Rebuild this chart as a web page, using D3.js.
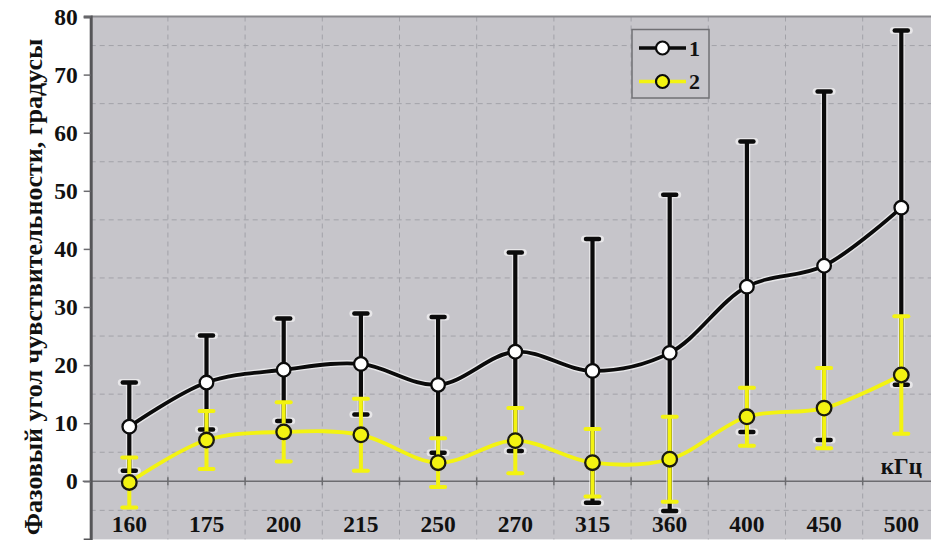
<!DOCTYPE html>
<html>
<head>
<meta charset="utf-8">
<script src="https://cdn.jsdelivr.net/npm/d3@7"></script>
<style>
  html, body { margin: 0; padding: 0; background: #ffffff; }
  svg { display: block; }
  text { font-family: "Liberation Serif", "Tinos", "Times New Roman", "DejaVu Serif", serif; }
</style>
</head>
<body>
<svg id="chart" width="931" height="540"></svg>
<script>
// Frequencies (kHz) along the horizontal axis
const categories = ["160", "175", "200", "215", "250", "270", "315", "360", "400", "450", "500"];

// Series 1: mean phase angle and its error (degrees)
const series1Mean = [9.4, 17.0, 19.2, 20.2, 16.6, 22.3, 19.0, 22.1, 33.5, 37.1, 47.1];
const series1Err  = [7.6, 8.1, 8.8, 8.7, 11.7, 17.1, 22.7, 27.2, 25.0, 30.0, 30.5];

// Series 2: mean phase angle and its error (degrees)
const series2Mean = [-0.2, 7.1, 8.5, 8.0, 3.2, 7.0, 3.2, 3.8, 11.1, 12.6, 18.3];
const series2Err  = [4.3, 5.0, 5.1, 6.2, 4.2, 5.6, 5.8, 7.3, 5.0, 6.9, 10.1];

const seriesNames = ["1", "2"];
const yTicks = [0, 10, 20, 30, 40, 50, 60, 70, 80];
const yGrid = [-5, 5, 15, 25, 35, 45, 55, 65, 75];
const yTitle = "Фазовый угол чувствительности, градусы";
const xUnit = "кГц";

const FONT = "'Liberation Serif', 'Tinos', 'Times New Roman', 'DejaVu Serif', serif";

const svg = d3.select("#chart");
const W = 931, H = 540;

const plot = { left: 90.7, right: 939.9, top: 16.5, bottom: 539.4 };

const x = d3.scaleBand().domain(categories).range([plot.left, plot.right]).padding(0);
const y = d3.scaleLinear().domain([-10, 80]).range([plot.bottom, plot.top]);
const cx = c => x(c) + x.bandwidth() / 2;

const GRAY_BG = "#c6c5ca";
const YELLOW = "#f3f311";

// plot background
svg.append("rect")
  .attr("x", plot.left).attr("y", plot.top)
  .attr("width", plot.right - plot.left).attr("height", plot.bottom - plot.top)
  .attr("fill", GRAY_BG);

// dashed grid
const grid = svg.append("g").attr("stroke", "#a2a2a8").attr("stroke-width", 1).attr("stroke-dasharray", "5,4");
grid.selectAll("line.h").data(yGrid).join("line")
  .attr("class", "h")
  .attr("x1", plot.left).attr("x2", plot.right)
  .attr("y1", d => y(d)).attr("y2", d => y(d));
grid.selectAll("line.v").data(categories.slice(1)).join("line")
  .attr("class", "v")
  .attr("x1", d => x(d)).attr("x2", d => x(d))
  .attr("y1", plot.top).attr("y2", plot.bottom);

// top border
svg.append("line")
  .attr("x1", plot.left).attr("x2", W)
  .attr("y1", plot.top).attr("y2", plot.top)
  .attr("stroke", "#8a8a8e").attr("stroke-width", 2);

// zero line with small ticks at the band boundaries
svg.append("line")
  .attr("x1", plot.left - 8).attr("x2", W)
  .attr("y1", y(0)).attr("y2", y(0))
  .attr("stroke", "#6c6c70").attr("stroke-width", 1.5);
svg.append("g").selectAll("line").data(categories.slice(1)).join("line")
  .attr("x1", d => x(d)).attr("x2", d => x(d))
  .attr("y1", y(0) - 4).attr("y2", y(0) + 4)
  .attr("stroke", "#6c6c70").attr("stroke-width", 1.5);

// left axis
const yAxis = d3.axisLeft(y).tickValues(yTicks).tickSize(7).tickPadding(6).tickFormat(d3.format("d"));
const gy = svg.append("g").attr("transform", `translate(${plot.left},0)`).call(yAxis);
gy.attr("font-family", null);
gy.select(".domain").attr("stroke", "#555558").attr("stroke-width", 3);
gy.selectAll(".tick line").attr("stroke", "#6c6c70").attr("stroke-width", 1.5);
gy.selectAll(".tick text")
  .attr("fill", "#111").attr("font-size", 23.5).attr("font-weight", "bold")
  .style("font-family", FONT);

// y-axis title
svg.append("text")
  .attr("transform", `translate(42,${(38 + 536) / 2}) rotate(-90)`)
  .attr("text-anchor", "middle")
  .attr("font-size", 26)
  .attr("font-weight", "bold")
  .attr("fill", "#111")
  .style("font-family", FONT)
  .text(yTitle);

// category labels inside the plot
svg.append("g").selectAll("text").data(categories).join("text")
  .attr("x", d => cx(d)).attr("y", 531.5)
  .attr("text-anchor", "middle")
  .attr("font-size", 23.5).attr("font-weight", "bold").attr("fill", "#111")
  .style("font-family", FONT)
  .text(d => d);

// unit label
svg.append("text")
  .attr("x", 922).attr("y", 474)
  .attr("text-anchor", "end")
  .attr("font-size", 23).attr("font-weight", "bold").attr("fill", "#111")
  .style("font-family", FONT)
  .text(xUnit);

const rows1 = categories.map((c, i) => ({ c, m: series1Mean[i], e: series1Err[i] }));
const rows2 = categories.map((c, i) => ({ c, m: series2Mean[i], e: series2Err[i] }));

function errorBars(g, rows, color, width, capW, capT) {
  g.selectAll("line.stem").data(rows).join("line")
    .attr("class", "stem")
    .attr("x1", d => cx(d.c)).attr("x2", d => cx(d.c))
    .attr("y1", d => y(d.m + d.e)).attr("y2", d => y(d.m - d.e))
    .attr("stroke", color).attr("stroke-width", width);
  const caps = rows.flatMap(d => [d.m + d.e, d.m - d.e].map(v => ({ c: d.c, v })));
  g.selectAll("line.cap").data(caps).join("line")
    .attr("class", "cap")
    .attr("x1", d => cx(d.c) - capW / 2).attr("x2", d => cx(d.c) + capW / 2)
    .attr("y1", d => y(d.v)).attr("y2", d => y(d.v))
    .attr("stroke", color).attr("stroke-width", capT).attr("stroke-linecap", "round");
}

// series 1 error bars with a light halo
errorBars(svg.append("g").attr("opacity", 0.6), rows1, "#ffffff", 6.8, 16, 7);
errorBars(svg.append("g"), rows1, "#0b0b0b", 4.2, 13, 4.5);
// series 2 error bars
errorBars(svg.append("g"), rows2, YELLOW, 4, 14, 4);

const line = d3.line()
  .x(d => cx(d.c)).y(d => y(d.m))
  .curve(d3.curveCatmullRom.alpha(0.5));

// series 1 line
svg.append("path").datum(rows1).attr("d", line)
  .attr("fill", "none").attr("stroke", "#ffffff").attr("stroke-opacity", 0.6).attr("stroke-width", 6.5);
svg.append("path").datum(rows1).attr("d", line)
  .attr("fill", "none").attr("stroke", "#0b0b0b").attr("stroke-width", 3.8);
// series 2 line
svg.append("path").datum(rows2).attr("d", line)
  .attr("fill", "none").attr("stroke", YELLOW).attr("stroke-width", 3.8);

// markers
svg.append("g").selectAll("circle").data(rows1).join("circle")
  .attr("cx", d => cx(d.c)).attr("cy", d => y(d.m)).attr("r", 6.8)
  .attr("fill", "#ffffff").attr("stroke", "#0b0b0b").attr("stroke-width", 2.3);
svg.append("g").selectAll("circle").data(rows2).join("circle")
  .attr("cx", d => cx(d.c)).attr("cy", d => y(d.m)).attr("r", 7.3)
  .attr("fill", YELLOW).attr("stroke", "#1a1a10").attr("stroke-width", 2.3);

// legend
const lg = svg.append("g");
lg.append("rect")
  .attr("x", 632).attr("y", 29.5).attr("width", 77).attr("height", 68.5)
  .attr("fill", GRAY_BG).attr("stroke", "#707074").attr("stroke-width", 1.5);
const legendItems = [
  { name: seriesNames[0], stroke: "#0b0b0b", fill: "#ffffff", y: 48 },
  { name: seriesNames[1], stroke: YELLOW, fill: YELLOW, y: 81.5 }
];
legendItems.forEach(it => {
  lg.append("line")
    .attr("x1", 639).attr("x2", 686).attr("y1", it.y).attr("y2", it.y)
    .attr("stroke", it.stroke).attr("stroke-width", 3.5);
  lg.append("circle")
    .attr("cx", 662.5).attr("cy", it.y).attr("r", 6.5)
    .attr("fill", it.fill).attr("stroke", "#0b0b0b").attr("stroke-width", 2.2);
  lg.append("text")
    .attr("x", 689).attr("y", it.y + 7.5)
    .attr("font-size", 22).attr("font-weight", "bold").attr("fill", "#111")
    .style("font-family", FONT)
    .text(it.name);
});
</script>
</body>
</html>
